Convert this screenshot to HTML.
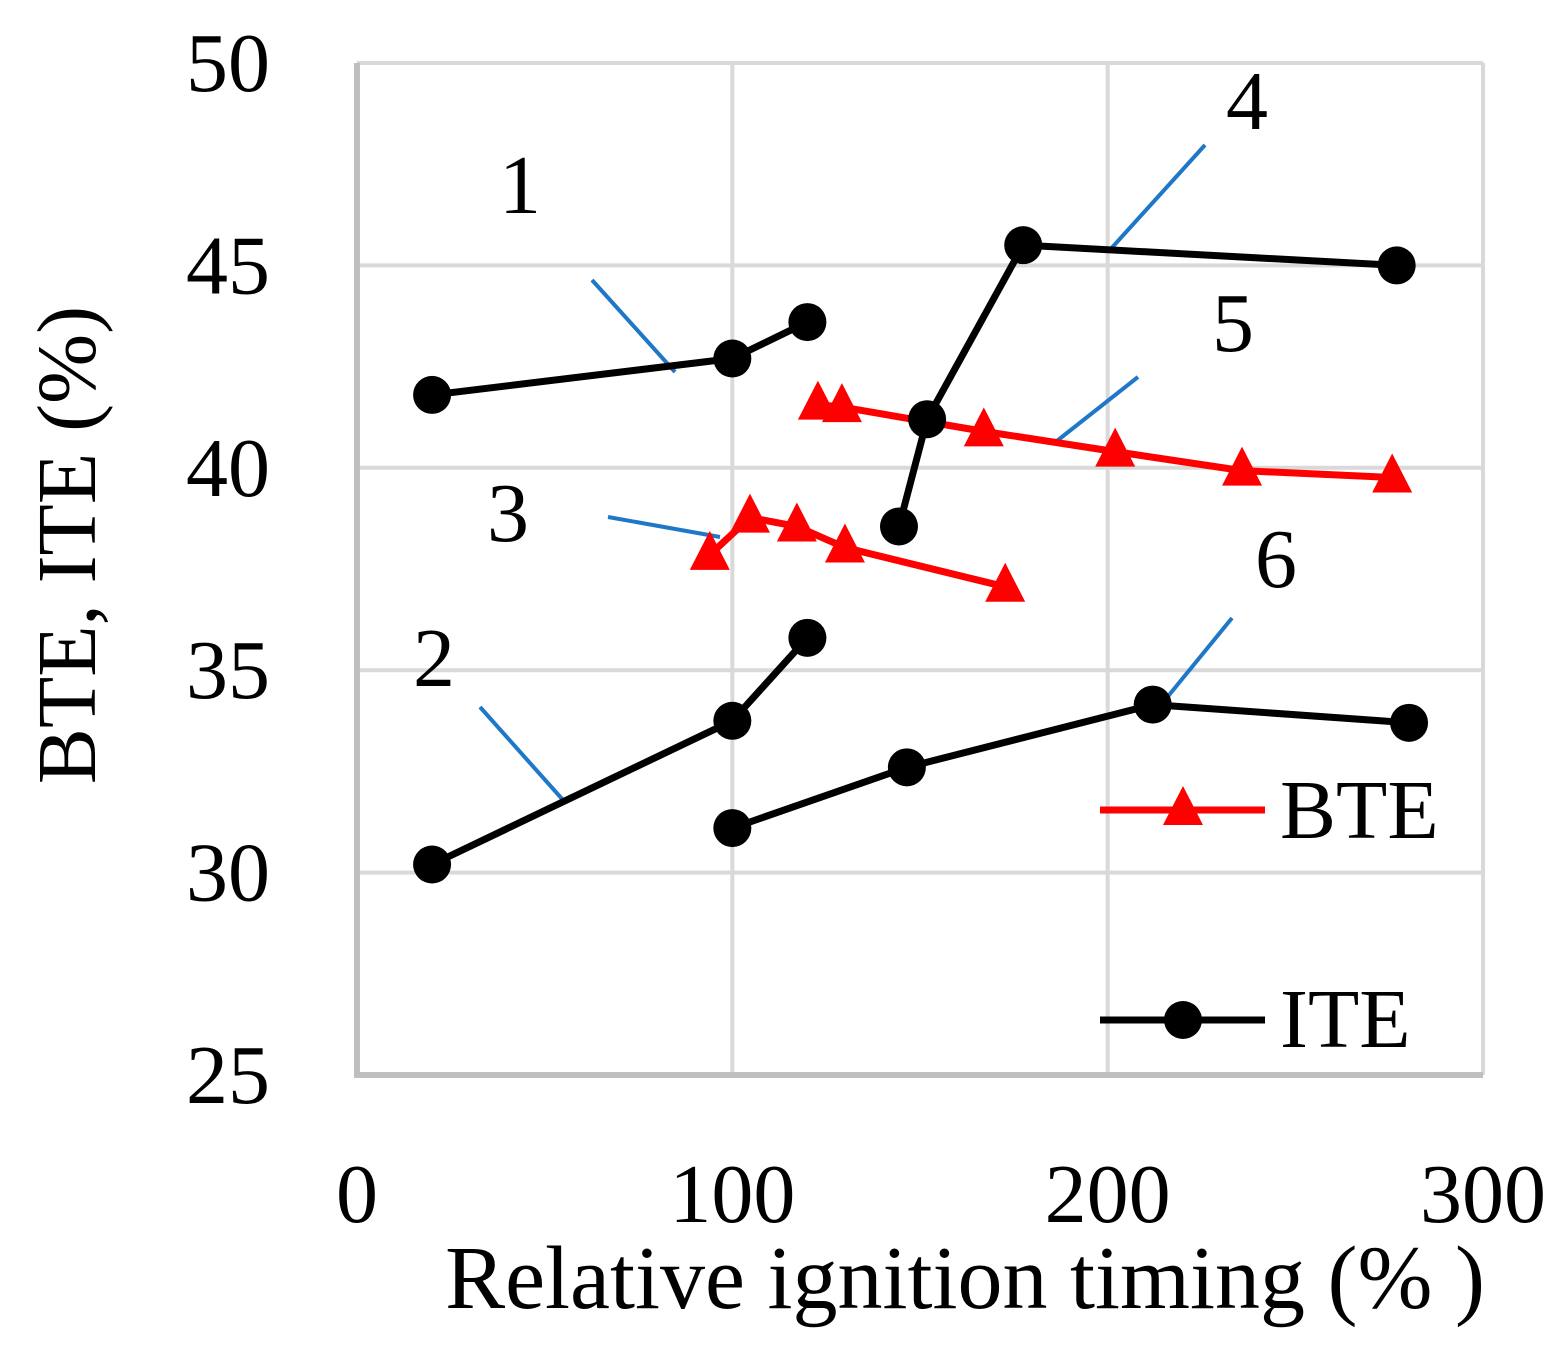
<!DOCTYPE html>
<html><head><meta charset="utf-8"><style>
html,body{margin:0;padding:0;background:#fff;}
svg{display:block;font-family:"Liberation Serif",serif;}
</style></head><body>
<svg id="chart" width="1563" height="1348" viewBox="0 0 1563 1348" xmlns="http://www.w3.org/2000/svg"></svg>
<script>
const xTicks = [0, 100, 200, 300];
const yTicks = [25, 30, 35, 40, 45, 50];
const ite1X = [20, 100, 120];
const ite1Y = [41.8, 42.7, 43.6];
const ite2X = [20, 100, 120];
const ite2Y = [30.2, 33.75, 35.8];
const ite4X = [144.4, 151.9, 177.5, 277];
const ite4Y = [38.55, 41.2, 45.5, 45.0];
const ite6X = [100, 146.5, 212, 280.3];
const ite6Y = [31.1, 32.6, 34.15, 33.7];
const bte3X = [94, 104.7, 117.2, 130, 172.7];
const bte3Y = [37.85, 38.77, 38.55, 38.03, 37.06];
const bte5X = [122.8, 129.2, 167, 202, 235.8, 275.8];
const bte5Y = [41.56, 41.5, 40.9, 40.4, 39.93, 39.76];

const NS = "http://www.w3.org/2000/svg";
const svg = document.getElementById('chart');
const X0 = 357, X1 = 1483, Y0 = 1075, Y1 = 63;
const sx = v => X0 + (v - 0) / 300 * (X1 - X0);
const sy = v => Y0 - (v - 25) / 25 * (Y0 - Y1);
function mk(tag, attrs, parent) {
  const e = document.createElementNS(NS, tag);
  for (const k in attrs) e.setAttribute(k, attrs[k]);
  (parent || svg).appendChild(e);
  return e;
}
xTicks.forEach(t => {
  if (t === 0) return;
  const l = mk('line', {x1: sx(t), x2: sx(t), y1: Y1, y2: Y0, stroke: '#d9d9d9', 'stroke-width': 4});
  
  
});
yTicks.forEach(t => {
  if (t === 25) return;
  const l = mk('line', {x1: X0, x2: X1, y1: sy(t), y2: sy(t), stroke: '#d9d9d9', 'stroke-width': 4});
  
  
});
const ax = mk('path', {d: `M${X0},${Y1} L${X0},${Y0} L${X1},${Y0}`, stroke: '#bfbfbf', 'stroke-width': 6, fill: 'none'});


yTicks.forEach(t => {
  const e = mk('text', {x: 270, y: sy(t) + 28, 'text-anchor': 'end', 'font-size': 84, fill: '#000'});
  e.textContent = t;
  
  
});
xTicks.forEach(t => {
  const e = mk('text', {x: sx(t), y: 1222, 'text-anchor': 'middle', 'font-size': 84, fill: '#000'});
  e.textContent = t;
  
  
});
const xt = mk('text', {x: 965, y: 1308, 'text-anchor': 'middle', 'font-size': 90, fill: '#000'});
xt.textContent = 'Relative ignition timing (% )';


const yt = mk('text', {x: 0, y: 0, transform: 'translate(95,545) rotate(-90)', 'text-anchor': 'middle', 'font-size': 84, fill: '#000'});
yt.textContent = 'BTE, ITE (%)';



const leaders = [[592,280,675,372],[1205,145,1108,252],[1138,377,1053,444],[608,517,720,537],[1232,618,1165,700],[480,707,563,800]];
leaders.forEach(a => {
  const l = mk('line', {x1: a[0], y1: a[1], x2: a[2], y2: a[3], stroke: '#1f77c8', 'stroke-width': 4});
  
  
});
const labels = [['1',520,213],['4',1247,129],['5',1233,351],['3',508,541],['6',1276,587],['2',434,686]];
labels.forEach(a => {
  const e = mk('text', {x: a[1], y: a[2], 'text-anchor': 'middle', 'font-size': 84, fill: '#000'});
  e.textContent = a[0];
  
  
});

function tri(cx, cy, g, color) {
  return mk('polygon', {points: `${cx},${cy-24} ${cx-20},${cy+15} ${cx+20},${cy+15}`, fill: color}, g);
}
function series(xs, ys, color, marker, name) {
  const g = mk('g', {});
  
  
  const pts = xs.map((x, i) => sx(x) + ',' + sy(ys[i])).join(' ');
  mk('polyline', {points: pts, fill: 'none', stroke: color, 'stroke-width': 7, 'stroke-linejoin': 'round'}, g);
  xs.forEach((x, i) => {
    let m;
    if (marker === 'c') m = mk('circle', {cx: sx(x), cy: sy(ys[i]), r: 19, fill: color}, g);
    else m = tri(sx(x), sy(ys[i]), g, color);
    
    
  });
}
series(ite1X, ite1Y, '#000', 'c', 'ite-series-1');
series(ite2X, ite2Y, '#000', 'c', 'ite-series-2');
series(bte3X, bte3Y, '#ff0000', 't', 'bte-series-3');
series(bte5X, bte5Y, '#ff0000', 't', 'bte-series-5');
series(ite4X, ite4Y, '#000', 'c', 'ite-series-4');
series(ite6X, ite6Y, '#000', 'c', 'ite-series-6');

const lg1 = mk('g', {});


mk('line', {x1: 1100, x2: 1265, y1: 810, y2: 810, stroke: '#ff0000', 'stroke-width': 7}, lg1);
tri(1183, 810, lg1, '#ff0000');
const t1 = mk('text', {x: 1280, y: 838, 'font-size': 84, fill: '#000'}, lg1);
t1.textContent = 'BTE';
const lg2 = mk('g', {});


mk('line', {x1: 1100, x2: 1265, y1: 1020, y2: 1020, stroke: '#000', 'stroke-width': 7}, lg2);
mk('circle', {cx: 1183, cy: 1020, r: 19, fill: '#000'}, lg2);
const t2 = mk('text', {x: 1280, y: 1047, 'font-size': 84, fill: '#000'}, lg2);
t2.textContent = 'ITE';
</script>
</body></html>
